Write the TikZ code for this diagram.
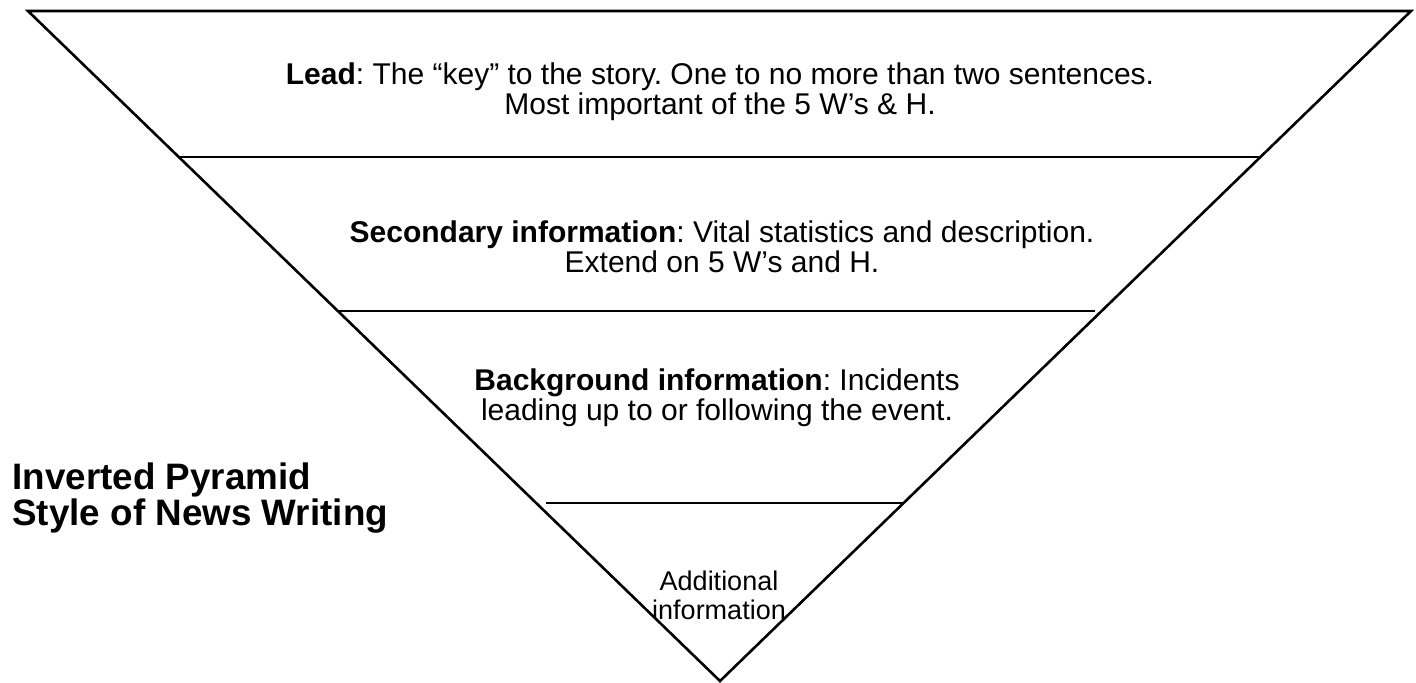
\documentclass[tikz,border=0pt]{standalone}
\usepackage{fontspec}
\setmainfont{Liberation Sans}
\frenchspacing
\newcommand\tightlines{\lineskiplimit=-100pt\relax}
\begin{document}
\begin{tikzpicture}[x=0.5pt,y=-0.5pt,
  outline/.style={line width=1.3pt,line join=miter},
  rule/.style={line width=1.1pt},
  body/.style={align=center,inner sep=0pt,
    font=\fontsize{15}{15}\selectfont\tightlines},
  small/.style={body,font=\fontsize{13.5}{14.5}\selectfont\tightlines},
  title/.style={align=left,inner sep=0pt,
    font=\fontsize{18.4}{18}\selectfont\bfseries\tightlines}]
  \useasboundingbox (0,0) rectangle (1416,682);
  % inverted pyramid outline
  \draw[outline] (28,11) -- (1411,11) -- (720,681) -- cycle;
  % layer dividers
  \draw[rule] (179,157) -- (1260,157);
  \draw[rule] (337,311) -- (1095,311);
  \draw[rule] (546,503) -- (904,503);
  % layer texts
  \node[body] (lead) at (720,92) {\textbf{Lead}: The “key” to the story. One to no more than two sentences.\\Most important of the 5 W’s \& H.};
  \node[body] (second) at (722,246.5) {\textbf{Secondary information}: Vital statistics and description.\\Extend on 5 W’s and H.};
  \node[body] (backgr) at (717,398) {\textbf{Background information}: Incidents\\leading up to or following the event.};
  \node[small] (addit) at (719,595.5) {Additional\\information};
  % side title
  \node[title,anchor=west] (head) at (12,498.5) {Inverted Pyramid\\Style of News Writing};
\end{tikzpicture}
\end{document}
